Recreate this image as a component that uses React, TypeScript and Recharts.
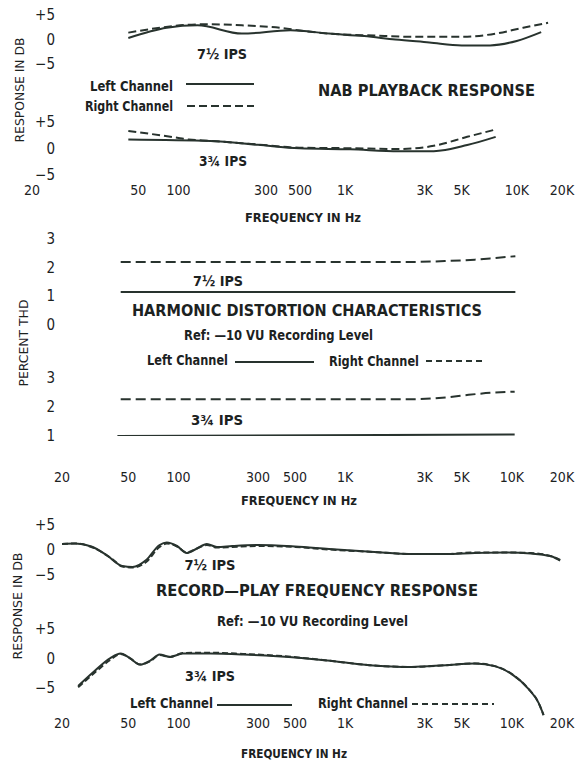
import React from 'react';
import { LineChart, Line, XAxis, YAxis } from 'recharts';

const INK = '#1c221f';
const PEN = '#28332e';
const FONT = "'DejaVu Sans Condensed', 'Liberation Sans Narrow', 'Roboto Condensed', 'DejaVu Sans', sans-serif";

// frequency axis shared by every panel
const freqTicks = [20, 50, 100, 300, 500, 1000, 3000, 5000, 10000, 20000];
const freqLabels = ['20', '50', '100', '300', '500', '1K', '3K', '5K', '10K', '20K'];

// NAB playback response, 7½ ips (dB)
const nab75LeftF = [50, 85, 130, 240, 470, 800, 1300, 2000, 3200, 5000, 7400, 10700, 15000];
const nab75LeftDb = [0.3, 2.4, 2.9, 1.2, 1.9, 1.2, 0.7, 0.0, -0.6, -1.2, -1.2, -0.3, 1.5];
const nab75RightF = [50, 140, 240, 450, 520, 800, 1500, 2500, 5000, 8000, 11700, 16500];
const nab75RightDb = [1.4, 3.1, 2.9, 2.2, 1.9, 1.2, 0.8, 0.55, 0.55, 1.2, 2.4, 3.4];

// NAB playback response, 3¾ ips (dB)
const nab375LeftF = [50, 155, 300, 530, 1070, 2100, 3400, 5400, 8000];
const nab375LeftDb = [1.7, 1.4, 0.7, 0.05, -0.15, -0.5, -0.5, 0.65, 2.2];
const nab375RightF = [50, 100, 115, 155, 300, 530, 1070, 2100, 3400, 5400, 7800];
const nab375RightDb = [3.3, 2.0, 1.7, 1.45, 0.75, 0.15, 0.05, -0.1, 0.5, 2.2, 3.5];

// harmonic distortion (percent THD)
const thd75LeftF = [45, 10500];
const thd75LeftPct = [1.15, 1.15];
const thd75RightF = [45, 1000, 2500, 4000, 6000, 8000, 10500];
const thd75RightPct = [2.2, 2.2, 2.2, 2.23, 2.28, 2.34, 2.4];
const thd375LeftF = [43, 10400];
const thd375LeftPct = [1.0, 1.05];
const thd375RightF = [45, 2500, 4000, 5500, 7500, 10400];
const thd375RightPct = [2.27, 2.27, 2.33, 2.42, 2.49, 2.53];

// record-play response, 7½ ips (dB)
const rp75LeftF = [20, 24, 30, 37, 46, 53, 64, 77, 85, 98, 112, 129, 148, 170, 210, 300, 500, 800, 1500, 2500, 4000, 6000, 9000, 13000, 17000, 19500];
const rp75LeftDb = [1.2, 1.3, 0.7, -1.0, -3.2, -3.4, -2.0, 1.0, 1.5, 0.8, -0.6, 0.3, 1.2, 0.6, 0.8, 1.0, 0.7, 0.2, -0.4, -0.8, -0.8, -0.6, -0.5, -0.7, -1.2, -2.0];
const rp75RightF = [20, 24, 30, 40, 46, 53, 64, 77, 85, 98, 112, 129, 148, 170, 210, 300, 500, 800, 1500, 2500, 4000, 6000, 9000, 13000, 17000, 19500];
const rp75RightDb = [1.2, 1.3, 0.6, -1.8, -3.3, -3.5, -2.4, 0.6, 1.3, 0.7, -0.5, 0.3, 1.0, 0.5, 0.6, 0.8, 0.6, 0.1, -0.4, -0.8, -0.8, -0.5, -0.5, -0.6, -1.2, -2.1];

// record-play response, 3¾ ips (dB)
const rp375LeftF = [25, 31, 39, 45, 51, 59, 68, 77, 89, 106, 155, 244, 390, 780, 1400, 2500, 4000, 6000, 8000, 10000, 12500, 14500, 15500];
const rp375LeftDb = [-4.6, -2.2, 0.1, 0.85, 0.1, -1.0, -0.3, 0.7, 0.3, 0.85, 0.85, 0.7, 0.4, -0.3, -1.1, -1.4, -1.1, -0.8, -1.3, -2.6, -5.0, -7.5, -9.5];
const rp375RightF = [25, 31, 39, 45, 51, 59, 68, 77, 89, 106, 155, 244, 390, 780, 1400, 2500, 4000, 6000, 8000, 10000, 12500, 14500, 15500];
const rp375RightDb = [-4.8, -2.5, -0.2, 0.8, 0.1, -1.0, -0.4, 0.6, 0.3, 0.95, 1.0, 0.8, 0.5, -0.3, -1.1, -1.4, -1.1, -0.8, -1.3, -2.6, -5.0, -7.5, -9.5];

const pts = (f: number[], v: number[]) => f.map((x, i) => ({ f: x, v: v[i] }));

const dbFmt = (v: number) => (v > 0 ? `+${v}` : v < 0 ? `\u2212${-v}` : '0');
const pctFmt = (v: number) => `${v}`;

type SubProps = {
  top: number;
  bottom: number;
  domain: [number, number];
  ticks: number[];
  fmt: (v: number) => string;
  left: { f: number; v: number }[];
  right: { f: number; v: number }[];
  dash: string;
  xLabelOffset?: number;
  nudge?: Record<string, number>;
};

function SubChart({ top, bottom, domain, ticks, fmt, left, right, dash, xLabelOffset, nudge }: SubProps) {
  const padT = 12;
  const padB = 10;
  const showX = xLabelOffset !== undefined;
  const axisH = showX ? (xLabelOffset as number) + 12 : 0;
  const h = bottom - top + padT + padB + axisH;

  return (
    <div style={{ position: 'absolute', left: 0, top: top - padT }}>
      <LineChart width={576} height={h} margin={{ top: padT, right: 14, bottom: padB, left: 0 }}>
        <XAxis
          dataKey="f"
          type="number"
          scale="log"
          domain={[20, 20000]}
          ticks={freqTicks}
          interval={0}
          allowDataOverflow
          hide={!showX}
          height={axisH}
          axisLine={false}
          tickLine={false}
          tickSize={0}
          tickMargin={0}
          tick={(p: any) => {
            const label = freqLabels[freqTicks.indexOf(p.payload.value)];
            const dx = (nudge && nudge[label]) || 0;
            return (
              <text x={p.x + dx} y={p.y + (xLabelOffset || 0)} textAnchor="middle" dominantBaseline="central"
                fill={INK} fontSize={14} fontFamily={FONT}>
                {label}
              </text>
            );
          }}
        />
        <YAxis
          type="number"
          domain={domain}
          ticks={ticks}
          interval={0}
          allowDataOverflow
          width={62}
          axisLine={false}
          tickLine={false}
          tickSize={0}
          tickMargin={0}
          tick={(p: any) => (
            <text x={p.x - 7} y={p.y} textAnchor="end" dominantBaseline="central"
              fill={INK} fontSize={15} fontFamily={FONT}>
              {fmt(p.payload.value)}
            </text>
          )}
        />
        <Line data={left} dataKey="v" type="monotone" stroke={PEN} strokeWidth={2} dot={false} isAnimationActive={false} />
        <Line data={right} dataKey="v" type="monotone" stroke={PEN} strokeWidth={2} strokeDasharray={dash} dot={false} isAnimationActive={false} />
      </LineChart>
    </div>
  );
}

type Lbl = { t: string; x: number; y: number; w: number; size?: number; bold?: boolean; anchor?: 'start' | 'middle'; rot?: boolean };

const labels: Lbl[] = [
  // NAB playback
  { t: 'RESPONSE IN DB', x: 19, y: 90, w: 105, size: 13, anchor: 'middle', rot: true },
  { t: '7½ IPS', x: 222, y: 54, w: 50, size: 14, bold: true, anchor: 'middle' },
  { t: 'Left Channel', x: 90, y: 86, w: 83, size: 14, bold: true },
  { t: 'Right Channel', x: 85, y: 106, w: 88, size: 14, bold: true },
  { t: 'NAB PLAYBACK RESPONSE', x: 318, y: 90, w: 217, size: 16, bold: true },
  { t: '3¾ IPS', x: 223, y: 161, w: 48, size: 14, bold: true, anchor: 'middle' },
  { t: 'FREQUENCY IN Hz', x: 303, y: 217, w: 116, size: 13, bold: true, anchor: 'middle' },
  // harmonic distortion
  { t: 'PERCENT THD', x: 23, y: 343, w: 87, size: 13, anchor: 'middle', rot: true },
  { t: '7½ IPS', x: 218, y: 281, w: 50, size: 14, bold: true, anchor: 'middle' },
  { t: 'HARMONIC DISTORTION CHARACTERISTICS', x: 132, y: 310, w: 350, size: 16, bold: true },
  { t: 'Ref: \u201410 VU Recording Level', x: 184, y: 335, w: 189, size: 14, bold: true },
  { t: 'Left Channel', x: 147, y: 360, w: 81, size: 14, bold: true },
  { t: 'Right Channel', x: 329, y: 361, w: 90, size: 14, bold: true },
  { t: '3¾ IPS', x: 217, y: 420, w: 52, size: 14, bold: true, anchor: 'middle' },
  { t: 'FREQUENCY IN Hz', x: 299, y: 500, w: 116, size: 13, bold: true, anchor: 'middle' },
  // record-play
  { t: 'RESPONSE IN DB', x: 17, y: 606, w: 107, size: 13, anchor: 'middle', rot: true },
  { t: '7½ IPS', x: 210, y: 565, w: 51, size: 14, bold: true, anchor: 'middle' },
  { t: 'RECORD\u2014PLAY FREQUENCY RESPONSE', x: 156, y: 590, w: 322, size: 16, bold: true },
  { t: 'Ref: \u201410 VU Recording Level', x: 217, y: 621, w: 191, size: 14, bold: true },
  { t: '3¾ IPS', x: 210, y: 676, w: 50, size: 14, bold: true, anchor: 'middle' },
  { t: 'Left Channel', x: 130, y: 703, w: 83, size: 14, bold: true },
  { t: 'Right Channel', x: 318, y: 703, w: 90, size: 14, bold: true },
  { t: 'FREQUENCY IN Hz', x: 294, y: 753, w: 106, size: 13, bold: true, anchor: 'middle' },
];

// legend sample strokes: [x1, x2, y, dash]
const legendKeys: [number, number, number, string][] = [
  [186, 254, 84, ''],
  [187, 254, 106, '8 4'],
  [235, 314, 362, ''],
  [426, 482, 361, '6 4'],
  [217, 292, 705, ''],
  [412, 494, 704, '6 4'],
];

function Overlay() {
  return (
    <svg width={576} height={764} style={{ position: 'absolute', left: 0, top: 0, pointerEvents: 'none' }}>
      {labels.map((l, i) => (
        <text
          key={i}
          x={l.x}
          y={l.y}
          textAnchor={l.anchor || 'start'}
          dominantBaseline="central"
          fontSize={l.size || 14}
          fontWeight={l.bold ? 700 : 400}
          fontFamily={FONT}
          fill={INK}
          textLength={l.w}
          lengthAdjust="spacingAndGlyphs"
          transform={l.rot ? `rotate(-90 ${l.x} ${l.y})` : undefined}
        >
          {l.t}
        </text>
      ))}
      {legendKeys.map(([x1, x2, y, d], i) => (
        <line key={i} x1={x1} x2={x2} y1={y} y2={y} stroke={PEN} strokeWidth={2} strokeDasharray={d || undefined} />
      ))}
    </svg>
  );
}

export default function App() {
  return (
    <div style={{ position: 'absolute', left: 0, top: 0, width: 576, height: 764, background: '#fff', overflow: 'hidden' }}>
      <SubChart top={15} bottom={64} domain={[-5, 5]} ticks={[5, 0, -5]} fmt={dbFmt}
        left={pts(nab75LeftF, nab75LeftDb)} right={pts(nab75RightF, nab75RightDb)} dash="8 4" />
      <SubChart top={122} bottom={175} domain={[-5, 5]} ticks={[5, 0, -5]} fmt={dbFmt}
        left={pts(nab375LeftF, nab375LeftDb)} right={pts(nab375RightF, nab375RightDb)} dash="8 4"
        xLabelOffset={15} nudge={{ '20': -30, '50': 10, '300': 8, '500': 5, '10K': 5 }} />
      <SubChart top={239} bottom={325} domain={[0, 3]} ticks={[3, 2, 1, 0]} fmt={pctFmt}
        left={pts(thd75LeftF, thd75LeftPct)} right={pts(thd75RightF, thd75RightPct)} dash="10 5" />
      <SubChart top={378} bottom={436} domain={[1, 3]} ticks={[3, 2, 1]} fmt={pctFmt}
        left={pts(thd375LeftF, thd375LeftPct)} right={pts(thd375RightF, thd375RightPct)} dash="10 5"
        xLabelOffset={41} />
      <SubChart top={525} bottom={575} domain={[-5, 5]} ticks={[5, 0, -5]} fmt={dbFmt}
        left={pts(rp75LeftF, rp75LeftDb)} right={pts(rp75RightF, rp75RightDb)} dash="6 3" />
      <SubChart top={629} bottom={718} domain={[-10, 5]} ticks={[5, 0, -5]} fmt={dbFmt}
        left={pts(rp375LeftF, rp375LeftDb)} right={pts(rp375RightF, rp375RightDb)} dash="6 3"
        xLabelOffset={5} />
      <Overlay />
    </div>
  );
}
